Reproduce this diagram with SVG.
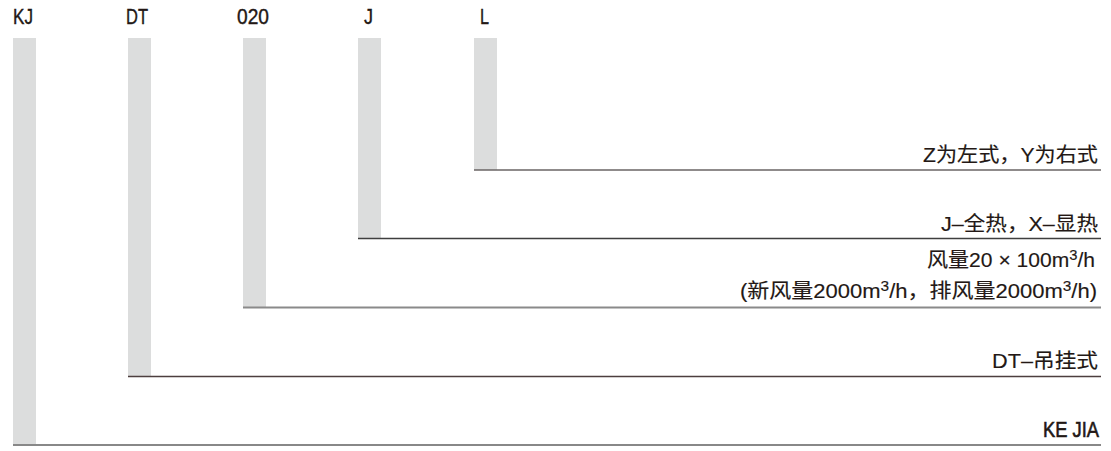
<svg xmlns="http://www.w3.org/2000/svg" width="1111" height="451" viewBox="0 0 1111 451">
<style>
.bar{fill:#dcdddd}
.code{font-family:"Liberation Sans","Noto Sans",sans-serif;font-size:22px;fill:#231815;stroke:#231815;stroke-width:0.4}
.desc{font-family:"Liberation Sans","Noto Sans CJK SC",sans-serif;font-size:20px;fill:#231815;stroke:#231815;stroke-width:0.15;text-anchor:end}
.kj{font-family:"Liberation Sans","Noto Sans",sans-serif;font-size:22px;fill:#231815;stroke:#231815;stroke-width:0.6;text-anchor:end}
.sup{font-size:14px}
</style>
<rect width="1111" height="451" fill="#ffffff"/>
<g id="node-kj">
<text class="code" x="13" y="24" textLength="20" lengthAdjust="spacingAndGlyphs">KJ</text>
<rect class="bar" x="13" y="38" width="23" height="406"/>
<text class="kj" x="1099" y="437" textLength="56" lengthAdjust="spacingAndGlyphs">KE JIA</text>
</g>
<g id="node-dt">
<text class="code" x="126" y="24" textLength="22" lengthAdjust="spacingAndGlyphs">DT</text>
<rect class="bar" x="128" y="38" width="23" height="338"/>
<text class="desc" x="1098" y="368" textLength="106" lengthAdjust="spacingAndGlyphs">DT–吊挂式</text>
</g>
<g id="node-020">
<text class="code" x="237" y="24" textLength="32" lengthAdjust="spacingAndGlyphs">020</text>
<rect class="bar" x="243" y="38" width="23" height="269"/>
<text class="desc" x="1095" y="267" textLength="168" lengthAdjust="spacingAndGlyphs">风量20 × 100m<tspan class="sup" dy="-7">3</tspan><tspan dy="7">/h</tspan></text>
<text class="desc" x="1097" y="298" textLength="357" lengthAdjust="spacingAndGlyphs">(新风量2000m<tspan class="sup" dy="-7">3</tspan><tspan dy="7">/h，排风量2000m</tspan><tspan class="sup" dy="-7">3</tspan><tspan dy="7">/h)</tspan></text>
</g>
<g id="node-j">
<text class="code" x="364" y="24" textLength="9" lengthAdjust="spacingAndGlyphs">J</text>
<rect class="bar" x="358" y="38" width="23" height="200"/>
<text class="desc" x="1098" y="231" textLength="157" lengthAdjust="spacingAndGlyphs">J–全热，X–显热</text>
</g>
<g id="node-l">
<text class="code" x="480" y="24" textLength="9" lengthAdjust="spacingAndGlyphs">L</text>
<rect class="bar" x="474" y="38" width="23" height="132"/>
<text class="desc" x="1098" y="162" textLength="175" lengthAdjust="spacingAndGlyphs">Z为左式，Y为右式</text>
</g>
<g id="connectors" fill="none">
<line x1="474" y1="170" x2="1101" y2="170" stroke="#6a6464" stroke-width="1.5"/>
<line x1="358" y1="238.5" x2="1101" y2="238.5" stroke="#3f3f3f" stroke-width="1.5"/>
<line x1="243" y1="307.5" x2="1101" y2="307.5" stroke="#8a8a8a" stroke-width="1.8"/>
<line x1="128" y1="376.5" x2="1101" y2="376.5" stroke="#4d3f3f" stroke-width="1.5"/>
<line x1="13" y1="445" x2="1101" y2="445" stroke="#888888" stroke-width="2"/>
</g>
</svg>
